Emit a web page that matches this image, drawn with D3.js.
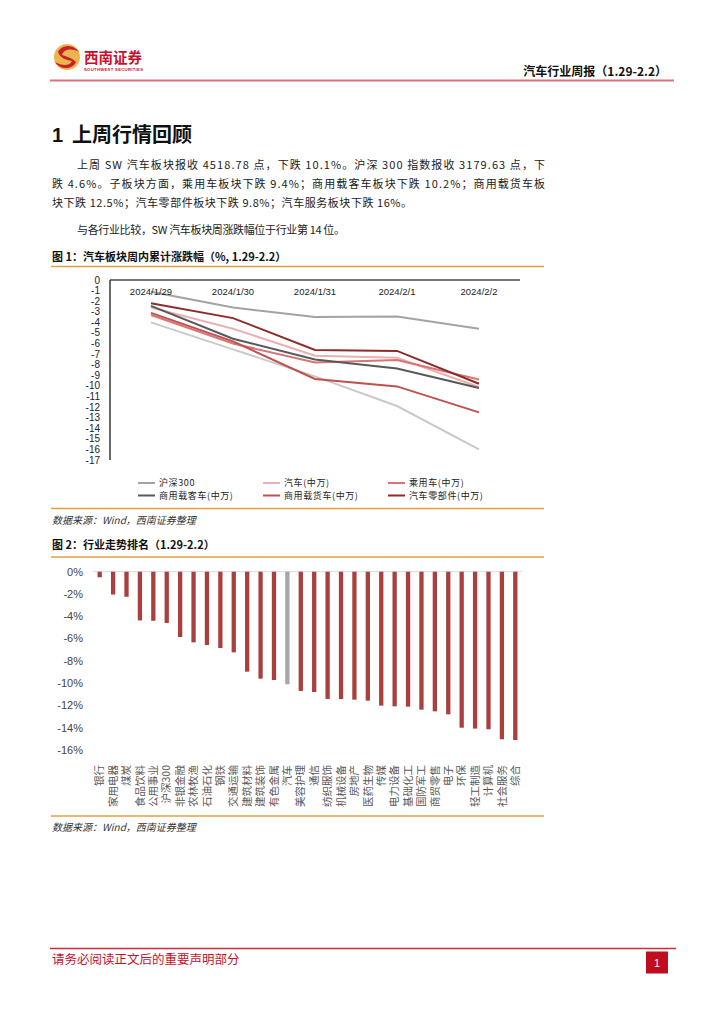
<!DOCTYPE html>
<html>
<head>
<meta charset="utf-8">
<title>汽车行业周报</title>
<script src="https://d3js.org/d3.v7.min.js"></script>
<style>
body { margin: 0; background: #fff; }
svg { display: block; }
.cjk { font-family: "Noto Sans CJK SC", sans-serif; }
.lat { font-family: "Liberation Sans", Arial, sans-serif; }
</style>
</head>
<body>
<svg id="page" width="724" height="1024"></svg>
<script>

// ---- data: chart 1 (cumulative change within week, %)
const dates = ['2024/1/29', '2024/1/30', '2024/1/31', '2024/2/1', '2024/2/2'];
const hs300      = [-1.1, -2.6, -3.5, -3.45, -4.6];
const qiche      = [-2.6, -4.6, -7.15, -7.35, -10.1];
const chengyong  = [-3.3, -6.0, -7.8, -7.55, -9.4];
const keche      = [-2.45, -5.55, -7.5, -8.35, -10.2];
const huoche     = [-3.1, -5.8, -9.35, -10.05, -12.5];
const lingbujian = [-2.2, -3.6, -6.6, -6.7, -9.8];
const fuwu       = [-4.0, -6.55, -9.1, -11.9, -16.0];
const yTicks1 = d3.range(0, -18, -1);

// ---- data: chart 2 (industry ranking, %)
const industries = ['银行', '家用电器', '煤炭', '食品饮料', '公用事业', '沪深300', '非银金融', '农林牧渔',
  '石油石化', '钢铁', '交通运输', '建筑材料', '建筑装饰', '有色金属', '汽车', '美容护理', '通信',
  '纺织服饰', '机械设备', '房地产', '医药生物', '传媒', '电力设备', '基础化工', '国防军工', '商贸零售',
  '电子', '环保', '轻工制造', '计算机', '社会服务', '综合'];
const changes = [-0.5, -2.05, -2.25, -4.37, -4.4, -4.6, -5.86, -6.34,
  -6.58, -6.85, -7.24, -8.97, -9.6, -9.72, -10.1, -10.7, -10.8,
  -11.42, -11.43, -11.48, -11.57, -12.02, -12.08, -12.11, -12.38, -12.53,
  -12.8, -14.0, -14.08, -14.14, -15.04, -15.1];
const yTicks2 = d3.range(0, -17, -2);

const svg = d3.select('#page');

// ---------- header
const logo = svg.append('g');
logo.append('circle').attr('cx', 67).attr('cy', 57).attr('r', 13).attr('fill', '#eab54c');
logo.append('path')
  .attr('d', 'M58,52 C62,44 74,44 79,52 C72,48 64,49 62,55 C66,56 72,58 76,62 C72,70 60,70 55,62 C62,66 70,66 72,61 C66,60 60,58 58,52 Z')
  .attr('fill', '#c8202a');
logo.append('text').attr('class', 'cjk').attr('x', 84).attr('y', 63)
  .attr('font-size', 14.5).attr('font-weight', 700).attr('fill', '#c8102e')
  .attr('textLength', 58).text('西南证券');
logo.append('text').attr('class', 'lat').attr('x', 84).attr('y', 71)
  .attr('font-size', 4.2).attr('font-weight', 700).attr('fill', '#c8102e')
  .attr('textLength', 59).text('SOUTHWEST SECURITIES');

svg.append('text').attr('class', 'cjk').attr('x', 667).attr('y', 75.5)
  .attr('text-anchor', 'end').attr('font-size', 12).attr('font-weight', 700).attr('fill', '#111')
  .text('汽车行业周报（1.29-2.2）');
svg.append('line').attr('x1', 50).attr('x2', 674).attr('y1', 80.5).attr('y2', 80.5)
  .attr('stroke', '#d9737d').attr('stroke-width', 2);

// ---------- section text
svg.append('text').attr('class', 'lat').attr('x', 52).attr('y', 142)
  .attr('font-size', 20).attr('font-weight', 700).attr('fill', '#111')
  .text('1');
svg.append('text').attr('class', 'cjk').attr('x', 72).attr('y', 142)
  .attr('font-size', 20).attr('font-weight', 700).attr('fill', '#111')
  .attr('textLength', 120).text('上周行情回顾');

const para = [
  { x: 77, y: 168.5, w: 468, t: '上周 SW 汽车板块报收 4518.78 点，下跌 10.1%。沪深 300 指数报收 3179.63 点，下' },
  { x: 52, y: 187.5, w: 493, t: '跌 4.6%。子板块方面，乘用车板块下跌 9.4%；商用载客车板块下跌 10.2%；商用载货车板' },
  { x: 52, y: 206.5, w: 360, t: '块下跌 12.5%；汽车零部件板块下跌 9.8%；汽车服务板块下跌 16%。' },
  { x: 77, y: 233.5, w: 268, t: '与各行业比较，SW 汽车板块周涨跌幅位于行业第 14 位。' }
];
svg.selectAll('text.para').data(para).enter().append('text')
  .attr('class', 'para cjk')
  .attr('x', d => d.x).attr('y', d => d.y)
  .attr('font-size', 11).attr('fill', '#222')
  .attr('textLength', d => d.w).attr('lengthAdjust', 'spacing')
  .text(d => d.t);

// ---------- figure frames
function figFrame(title, ty, topY, botY, srcY) {
  svg.append('text').attr('class', 'cjk').attr('x', 52).attr('y', ty)
    .attr('font-size', 11).attr('font-weight', 700).attr('fill', '#111').text(title);
  svg.append('line').attr('x1', 51).attr('x2', 544).attr('y1', topY).attr('y2', topY)
    .attr('stroke', '#e0a040').attr('stroke-width', 1.5);
  svg.append('line').attr('x1', 51).attr('x2', 544).attr('y1', botY).attr('y2', botY)
    .attr('stroke', '#e0a040').attr('stroke-width', 1.5);
  svg.append('text').attr('class', 'cjk').attr('x', 52).attr('y', srcY)
    .attr('font-size', 10).attr('font-style', 'italic').attr('fill', '#333')
    .text('数据来源：Wind，西南证券整理');
}
figFrame('图 1：汽车板块周内累计涨跌幅（%, 1.29-2.2）', 261, 266.5, 508.5, 524);
figFrame('图 2：行业走势排名（1.29-2.2）', 548.5, 557, 816, 831);

// ---------- chart 1: lines
const x1 = d3.scaleBand().domain(dates).range([110, 520]);
const y1 = d3.scaleLinear().domain([0, -17]).range([280, 460]);
const c1 = svg.append('g');

c1.append('g').selectAll('text').data(yTicks1).enter().append('text')
  .attr('class', 'lat').attr('x', 100).attr('y', d => y1(d)).attr('dy', '0.35em')
  .attr('text-anchor', 'end').attr('font-size', 10).attr('fill', '#222')
  .text(d => d);

c1.append('line').attr('x1', x1.range()[0]).attr('x2', x1.range()[1])
  .attr('y1', y1(0)).attr('y2', y1(0)).attr('stroke', '#444').attr('stroke-width', 1.6);
c1.append('line').attr('x1', x1.range()[0]).attr('x2', x1.range()[0])
  .attr('y1', y1(0)).attr('y2', y1(-17)).attr('stroke', '#444').attr('stroke-width', 1.6);

const series = [
  { name: '汽车服务', v: fuwu, c: '#c9c9c9', legend: false },
  { name: '沪深300', v: hs300, c: '#a3a3a3', legend: true },
  { name: '汽车(中万)', v: qiche, c: '#e9b1b1', legend: true },
  { name: '乘用车(中万)', v: chengyong, c: '#d87474', legend: true },
  { name: '商用载客车(中万)', v: keche, c: '#595959', legend: true },
  { name: '商用载货车(中万)', v: huoche, c: '#c0504d', legend: true },
  { name: '汽车零部件(中万)', v: lingbujian, c: '#8e2a2a', legend: true }
];

const line = d3.line()
  .x((d, i) => x1(dates[i]) + x1.bandwidth() / 2)
  .y(d => y1(d));

c1.append('g').selectAll('path').data(series).enter().append('path')
  .attr('d', d => line(d.v)).attr('fill', 'none')
  .attr('stroke', d => d.c).attr('stroke-width', 2);

c1.append('g').selectAll('text').data(dates).enter().append('text')
  .attr('class', 'lat').attr('x', d => x1(d) + x1.bandwidth() / 2).attr('y', 294.5)
  .attr('text-anchor', 'middle').attr('font-size', 9.5).attr('fill', '#222')
  .text(d => d);

// legend
const legItems = series.filter(d => d.legend);
const legCols = [138, 263, 388];
const leg = c1.append('g').selectAll('g').data(legItems).enter().append('g')
  .attr('transform', (d, i) => 'translate(' + legCols[i % 3] + ',' + (483 + Math.floor(i / 3) * 12.5) + ')');
leg.append('line').attr('x1', 0).attr('x2', 17).attr('stroke', d => d.c).attr('stroke-width', 2);
leg.append('text').attr('class', 'cjk').attr('x', 21).attr('dy', '0.35em')
  .attr('font-size', 9).attr('fill', '#222').attr('letter-spacing', 0.6)
  .text(d => d.name);

// ---------- chart 2: bars
const x2 = d3.scaleBand().domain(industries).range([93, 522]).paddingInner(0.68).paddingOuter(0.34);
const y2 = d3.scaleLinear().domain([0, -16]).range([571.7, 750]);
const c2 = svg.append('g');

c2.append('line').attr('x1', 93).attr('x2', 522).attr('y1', y2(0)).attr('y2', y2(0))
  .attr('stroke', '#d9d9d9').attr('stroke-width', 1);

c2.append('g').selectAll('text').data(yTicks2).enter().append('text')
  .attr('class', 'lat').attr('x', 83).attr('y', d => y2(d)).attr('dy', '0.35em')
  .attr('text-anchor', 'end').attr('font-size', 11).attr('fill', '#444')
  .text(d => d + '%');

c2.append('g').selectAll('rect').data(industries).enter().append('rect')
  .attr('x', d => x2(d)).attr('width', x2.bandwidth())
  .attr('y', y2(0)).attr('height', (d, i) => y2(changes[i]) - y2(0))
  .attr('fill', d => d === '汽车' ? '#a6a6a6' : '#a9403f');

c2.append('g').selectAll('text').data(industries).enter().append('text')
  .attr('class', 'cjk')
  .attr('transform', d => 'translate(' + (x2(d) + x2.bandwidth() / 2) + ',765) rotate(-90)')
  .attr('dy', '0.35em').attr('text-anchor', 'end')
  .attr('font-size', 10.5).attr('fill', '#595959')
  .text(d => d);

// ---------- footer
svg.append('line').attr('x1', 50).attr('x2', 676).attr('y1', 948.5).attr('y2', 948.5)
  .attr('stroke', '#d22a3a').attr('stroke-width', 1.5);
svg.append('text').attr('class', 'cjk').attr('x', 52).attr('y', 964)
  .attr('font-size', 12.5).attr('fill', '#c8102e').text('请务必阅读正文后的重要声明部分');
svg.append('rect').attr('x', 646).attr('y', 951.5).attr('width', 22).attr('height', 22)
  .attr('fill', '#c00d1e');
svg.append('text').attr('class', 'lat').attr('x', 657).attr('y', 966.5)
  .attr('text-anchor', 'middle').attr('font-size', 11).attr('fill', '#fff').text('1');

</script>
</body>
</html>
